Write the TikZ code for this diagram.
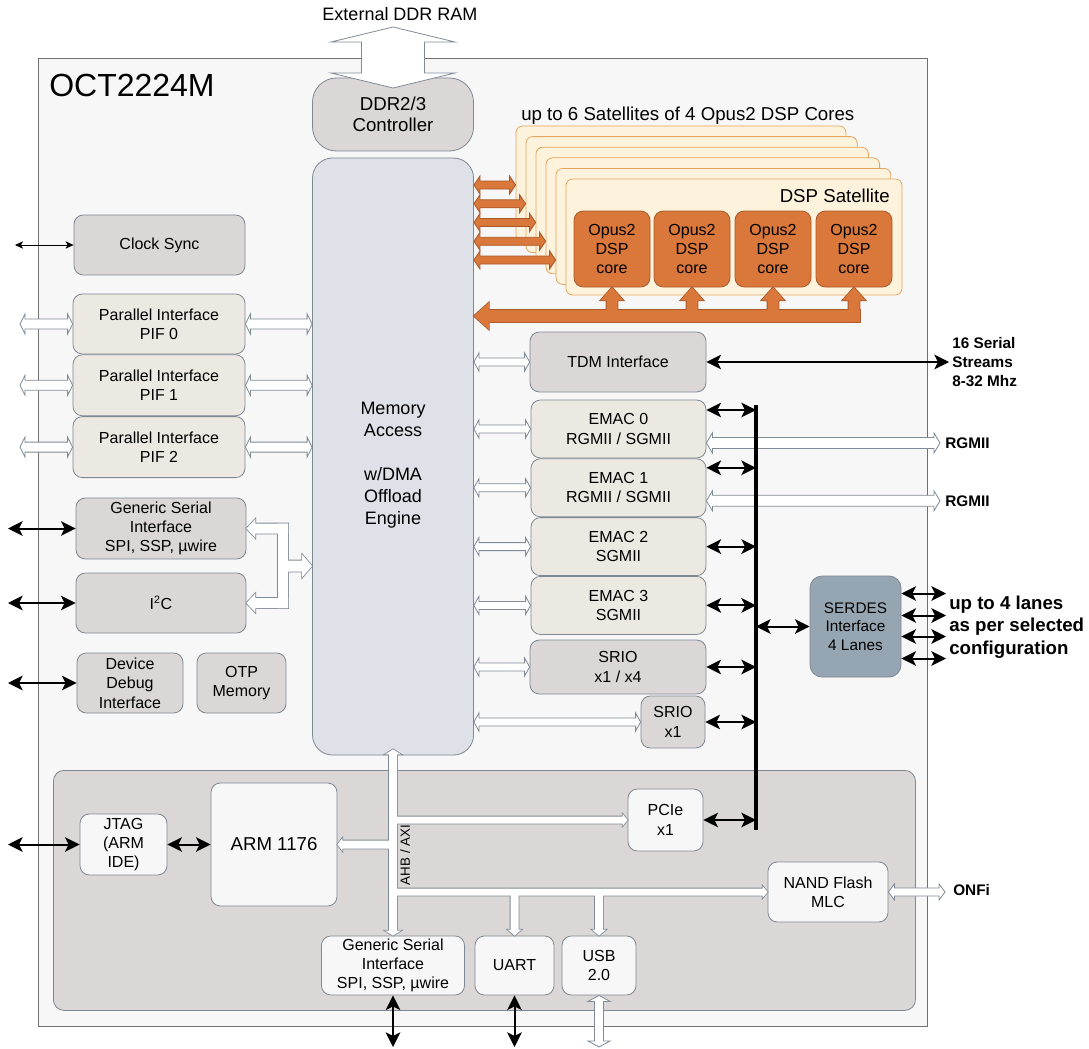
\documentclass[tikz,border=0pt]{standalone}
\usepackage{fontspec}
\setmainfont{Liberation Sans}
\usetikzlibrary{positioning,calc,arrows.meta}

\definecolor{chipbg}{HTML}{F7F7F7}
\definecolor{chipline}{HTML}{707070}
\definecolor{boxline}{HTML}{7D8893}
\definecolor{greyfill}{HTML}{DBD7D7}
\definecolor{beigefill}{HTML}{ECE9E2}
\definecolor{memfill}{HTML}{DEE1E7}
\definecolor{satfill}{HTML}{FDF3DD}
\definecolor{satline}{HTML}{E6A45E}
\definecolor{corefill}{HTML}{D9783A}
\definecolor{coreline}{HTML}{A9582B}
\definecolor{serdesfill}{HTML}{96A5B2}
\definecolor{busline}{HTML}{7F8B97}

\newcommand{\pxfont}[2]{\fontsize{#1}{#2}\selectfont}

% fat bus arrows: shaft half width / head half width / head length, in px
\tikzset{
    busdim/.code args={#1/#2/#3}{%
        \pgfmathsetmacro\busS{(#1)*0.75}\edef\busS{\busS pt}%
        \pgfmathsetmacro\busH{(#2)*0.75}\edef\busH{\busH pt}%
        \pgfmathsetmacro\busL{(#3)*0.75}\edef\busL{\busL pt}},
    busdim=4/8/5,
    twohead/.style={to path={
        -- ($(\tikztostart)!\busL!(\tikztotarget)!\busH!90:(\tikztotarget)$)
        -- ($(\tikztostart)!\busL!(\tikztotarget)!\busS!90:(\tikztotarget)$)
        -- ($(\tikztotarget)!\busL!(\tikztostart)!\busS!-90:(\tikztostart)$)
        -- ($(\tikztotarget)!\busL!(\tikztostart)!\busH!-90:(\tikztostart)$)
        -- (\tikztotarget)
        -- ($(\tikztotarget)!\busL!(\tikztostart)!\busH!90:(\tikztostart)$)
        -- ($(\tikztotarget)!\busL!(\tikztostart)!\busS!90:(\tikztostart)$)
        -- ($(\tikztostart)!\busL!(\tikztotarget)!\busS!-90:(\tikztotarget)$)
        -- ($(\tikztostart)!\busL!(\tikztotarget)!\busH!-90:(\tikztotarget)$)
        -- cycle}},
    onehead/.style={to path={
        -- ($(\tikztostart)!\busS!90:(\tikztotarget)$)
        -- ($(\tikztotarget)!\busL!(\tikztostart)!\busS!-90:(\tikztostart)$)
        -- ($(\tikztotarget)!\busL!(\tikztostart)!\busH!-90:(\tikztostart)$)
        -- (\tikztotarget)
        -- ($(\tikztotarget)!\busL!(\tikztostart)!\busH!90:(\tikztostart)$)
        -- ($(\tikztotarget)!\busL!(\tikztostart)!\busS!90:(\tikztostart)$)
        -- ($(\tikztostart)!\busS!-90:(\tikztotarget)$)
        -- cycle}}
}

\begin{document}
\begin{tikzpicture}[
        x=0.75pt, y=-0.75pt,
        sz/.style 2 args={minimum width=(#1)*0.75pt, minimum height=(#2)*0.75pt},
        blk/.style={
            draw=boxline,
            line width=0.6pt,
            rounded corners=7pt,
            align=center,
            inner sep=0pt,
            font=\pxfont{12}{14.5}
        },
        greybox/.style={blk, fill=greyfill},
        beigebox/.style={blk, fill=beigefill},
        whitebox/.style={blk, fill=chipbg},
        satbox/.style={draw=satline, fill=satfill, line width=0.6pt, rounded corners=5pt},
        corebox/.style={blk, draw=coreline, fill=corefill, font=\pxfont{12}{14}},
        sig/.style={<->, >={Stealth[length=11pt,width=11pt,inset=2.75pt]}, line width=1.5pt},
        thinsig/.style={<->, >={Stealth[length=6pt,width=5.5pt,inset=1.5pt]}, line width=0.7pt},
        hollow/.style={draw=busline, fill=white, line width=0.6pt},
        busedge/.style={draw=busline, line width=1.2pt},
        busfill/.style={fill=white},
        oredge/.style={draw=coreline, line width=1.2pt},
        orfill/.style={fill=corefill},
        pinlabel/.style={font=\bfseries\pxfont{11.5}{14.25}, align=left, inner sep=0pt}
    ]
    \useasboundingbox (0,0) rectangle (1089,1049);

    % chip and ARM subsystem
    \node[draw=chipline, fill=chipbg, line width=0.6pt, sz={889}{968}, anchor=north west] (chip) at (38,58) {};
    \node[anchor=base west, font=\pxfont{24}{28}, inner sep=0pt] (title) at (49,97) {OCT2224M};
    \node[draw=boxline, fill=greyfill, line width=0.6pt, rounded corners=8pt, sz={862}{240}, anchor=north west] (armsys) at (53,770) {};

    % memory access
    \node[greybox, rounded corners=18pt, sz={161}{73}, font=\pxfont{14}{16}] (ddr) at (393,114.5) {DDR2/3\\Controller};
    \node[blk, fill=memfill, rounded corners=15pt, sz={161}{597}, font=\pxfont{13.5}{16.5}] (mem) at (393,456.5) {\rule{0pt}{22pt}Memory\\Access\\[16.5pt]w/DMA\\Offload\\Engine};
    \node[font=\pxfont{13.5}{16}, inner sep=0pt] (ddrlbl) at (400,14) {External DDR RAM};
    \coordinate (ddrext) at (393,27);
    \coordinate (ddrtip) at (393,88);
    \draw[hollow, busdim=31.5/62/15, twohead] (ddrext) to (ddrtip);

    % left column
    \node[greybox, sz={171}{60}] (clk) at (159.5,245) {Clock Sync};
    \node[beigebox, sz={172}{60}] (pif0) at (159,324) {Parallel Interface\\PIF 0};
    \node[beigebox, sz={172}{61}, below=0pt of pif0] (pif1) {Parallel Interface\\PIF 1};
    \node[beigebox, sz={172}{61}, below=0pt of pif1] (pif2) {Parallel Interface\\PIF 2};
    \node[greybox, sz={170}{61}] (gsi) at (161,528.5) {Generic Serial\\Interface\\SPI, SSP, µwire};
    \node[greybox, sz={170}{60}] (iic) at (161,603) {I\textsuperscript{2}C};
    \node[greybox, sz={106}{60}] (dbg) at (130,683) {Device\\Debug\\Interface};
    \node[greybox, sz={89}{60}] (otp) at (241.5,683) {OTP\\Memory};

    % right column
    \node[greybox, sz={176}{60}] (tdm) at (618,362) {TDM Interface};
    \node[beigebox, sz={175}{58}] (emac0) at (618.5,429) {EMAC 0\\RGMII / SGMII};
    \node[beigebox, sz={175}{58}, below=0pt of emac0] (emac1) {EMAC 1\\RGMII / SGMII};
    \node[beigebox, sz={175}{58}, below=0pt of emac1] (emac2) {EMAC 2\\SGMII};
    \node[beigebox, sz={175}{58}, below=0pt of emac2] (emac3) {EMAC 3\\SGMII};
    \node[greybox, sz={176}{54}] (srio4) at (618,667) {SRIO\\x1 / x4};
    \node[greybox, sz={64}{52}] (srio1) at (673,722) {SRIO\\x1};
    \node[blk, fill=serdesfill, rounded corners=9pt, sz={91}{101}, font=\pxfont{11.5}{14}] (serdes) at (855.5,626.5) {SERDES\\Interface\\4 Lanes};

    % ARM side blocks
    \node[whitebox, sz={87}{61}] (jtag) at (123.5,844.5) {JTAG\\(ARM\\IDE)};
    \node[whitebox, sz={126}{123}, font=\pxfont{14}{17}] (arm) at (274,844.5) {ARM 1176};
    \node[whitebox, sz={75}{62}] (pcie) at (665.5,820) {PCIe\\x1};
    \node[whitebox, sz={120}{60}] (nand) at (828,892) {NAND Flash\\MLC};
    \node[whitebox, sz={143}{59}] (gsib) at (393,965.5) {Generic Serial\\Interface\\SPI, SSP, µwire};
    \node[whitebox, sz={79}{59}] (uart) at (514.5,965.5) {UART};
    \node[whitebox, sz={74}{59}] (usb) at (599,965.5) {USB\\2.0};

    % DSP satellites
    \foreach \i in {0,...,5}
        \node[satbox, sz={330+1.2*\i}{116}] (sat\i) at ({681+10.6*\i},{184+10.6*\i}) {};
    \node[font=\pxfont{14}{16}, anchor=base west, inner sep=0pt] (satlbl) at (521,121) {up to 6 Satellites of 4 Opus2 DSP Cores};
    \node[font=\pxfont{14}{16}, anchor=base east, inner sep=0pt] (satname) at (890,202) {DSP Satellite};
    \foreach \x [count=\k] in {612,692,773,854}
        \node[corebox, sz={76}{76}] (core\k) at (\x,249) {Opus2\\DSP\\core};

    \foreach \i in {0,...,4} {
        \coordinate (tap\i) at (0,{185+18.75*\i});
        \path[draw=coreline, fill=corefill, line width=0.6pt, busdim=4/9/6, twohead] (mem.east |- tap\i) to (sat\i.west |- tap\i);
    }
    \coordinate (obus) at (860,316);
    \foreach \pass in {oredge,orfill} {
        \path[\pass, busdim=6/13.5/15, onehead] (obus) to (mem.east |- obus);
        \foreach \k in {1,...,4}
            \path[\pass, busdim=5.5/11.5/13, onehead] (core\k.south |- obus) to (core\k.south);
    }

    % pads
    \coordinate (padA) at (20,0);
    \coordinate (padB) at (15,0);
    \coordinate (padC) at (8,0);
    \coordinate (padD) at (0,1047);
    \coordinate (padR) at (940,0);
    \coordinate (padT) at (949,0);
    \coordinate (padS) at (946,0);
    \coordinate (padO) at (945,0);

    % parallel buses
    \foreach \n in {0,1,2} {
        \draw[hollow, busdim=5/10/5, twohead] (pif\n.east) to (pif\n.east -| mem.west);
        \draw[hollow, busdim=5/10/5, twohead] (pif\n.west -| padA) to (pif\n.west);
    }
    \foreach \b in {tdm,emac0,emac1,emac2,emac3,srio4,srio1}
        \draw[hollow, busdim=4/9/5, twohead] (mem.east |- \b.west) to (\b.west);

    % serial bus for GSI / I2C
    \coordinate (sbus) at (283,566);
    \coordinate (sbx) at (288,0);
    \path (sbus |- gsi.east) ++(0,-5) coordinate (sbtop);
    \path (sbus |- iic.east) ++(0,5) coordinate (sbbot);
    \foreach \pass in {busedge,busfill} {
        \path[\pass, busdim=5.5/11.5/10, onehead] (sbus) to (mem.west |- sbus);
        \path[\pass, busdim=5/9.5/9, onehead] (sbx |- gsi.east) to (gsi.east);
        \path[\pass, busdim=5/9.5/9, onehead] (sbx |- iic.east) to (iic.east);
        \path[\pass, busdim=5/5/0, onehead] (sbtop) to (sbbot);
    }

    % AHB / AXI bus
    \coordinate (ahb) at (mem.south);
    \foreach \pass in {busedge,busfill} {
        \path[\pass, busdim=4/8/5, twohead] ([yshift=4.5pt]mem.south) to (gsib.north);
        \path[\pass, busdim=3.5/6/5, onehead] (ahb |- pcie.west) to (pcie.west);
        \path[\pass, busdim=4/6.5/5, onehead] (ahb |- arm.east) to (arm.east);
        \path[\pass, busdim=3.5/6/5, onehead] (ahb |- nand.west) to (nand.west);
        \path[\pass, busdim=4/7/6, onehead] (uart.north |- nand.west) to (uart.north);
        \path[\pass, busdim=4/7/6, onehead] (usb.north |- nand.west) to (usb.north);
    }
    \node[rotate=90, font=\pxfont{10}{12}, inner sep=0pt] (ahblbl) at (405,855) {AHB / AXI};

    % RGMII and ONFi
    \foreach \b/\d in {emac0/14,emac1/13} {
        \path (\b.east) ++(0,\d) coordinate (rg\b);
        \draw[hollow, busdim=5.5/10/6, twohead] (rg\b) to (rg\b -| padR);
        \node[pinlabel, anchor=west] (lbl\b) at ($(rg\b -| padR)+(5,0)$) {RGMII};
    }
    \draw[hollow, busdim=4/8/6, twohead] (nand.east) to (nand.east -| padO);
    \node[pinlabel, anchor=west] (onfi) at (953,890) {ONFi};
    \draw[hollow, busdim=4.5/11/6, twohead] (usb.south) to (usb.south |- padD);

    % serial interconnect
    \coordinate (busT) at (756,405);
    \coordinate (busB) at (756,830);
    \draw[line width=3pt] (busT) -- (busB);
    \path (emac0.east) ++(0,-19) coordinate (sg0);
    \path (emac1.east) ++(0,-20) coordinate (sg1);
    \foreach \p in {sg0,sg1,emac2.east,emac3.east,srio4.east,srio1.east,pcie.east}
        \draw[sig] (\p) -- (\p -| busT);
    \draw[sig] (busT |- serdes.west) -- (serdes.west);
    \foreach \d in {-33,-11,10,32} {
        \path (serdes.east) ++(0,\d) coordinate (ln);
        \draw[sig] (ln) -- (ln -| padS);
    }
    \node[pinlabel, font=\bfseries\pxfont{14}{17}, anchor=west] (lanes) at (949,627) {up to 4 lanes\\as per selected\\configuration};

    % TDM
    \draw[sig] (tdm.east) -- (tdm.east -| padT);
    \node[pinlabel, anchor=west] (tdmlbl) at (952,362) {16 Serial\\Streams\\8-32 Mhz};

    % left pins
    \draw[thinsig] (padB |- clk.west) -- (clk.west);
    \foreach \b in {gsi,iic,dbg,jtag}
        \draw[sig] (padC |- \b.west) -- (\b.west);
    \draw[sig] (jtag.east) -- (arm.west |- jtag.east);

    % bottom pins
    \draw[sig] (gsib.south) -- (gsib.south |- padD);
    \draw[sig] (uart.south) -- (uart.south |- padD);
\end{tikzpicture}
\end{document}
